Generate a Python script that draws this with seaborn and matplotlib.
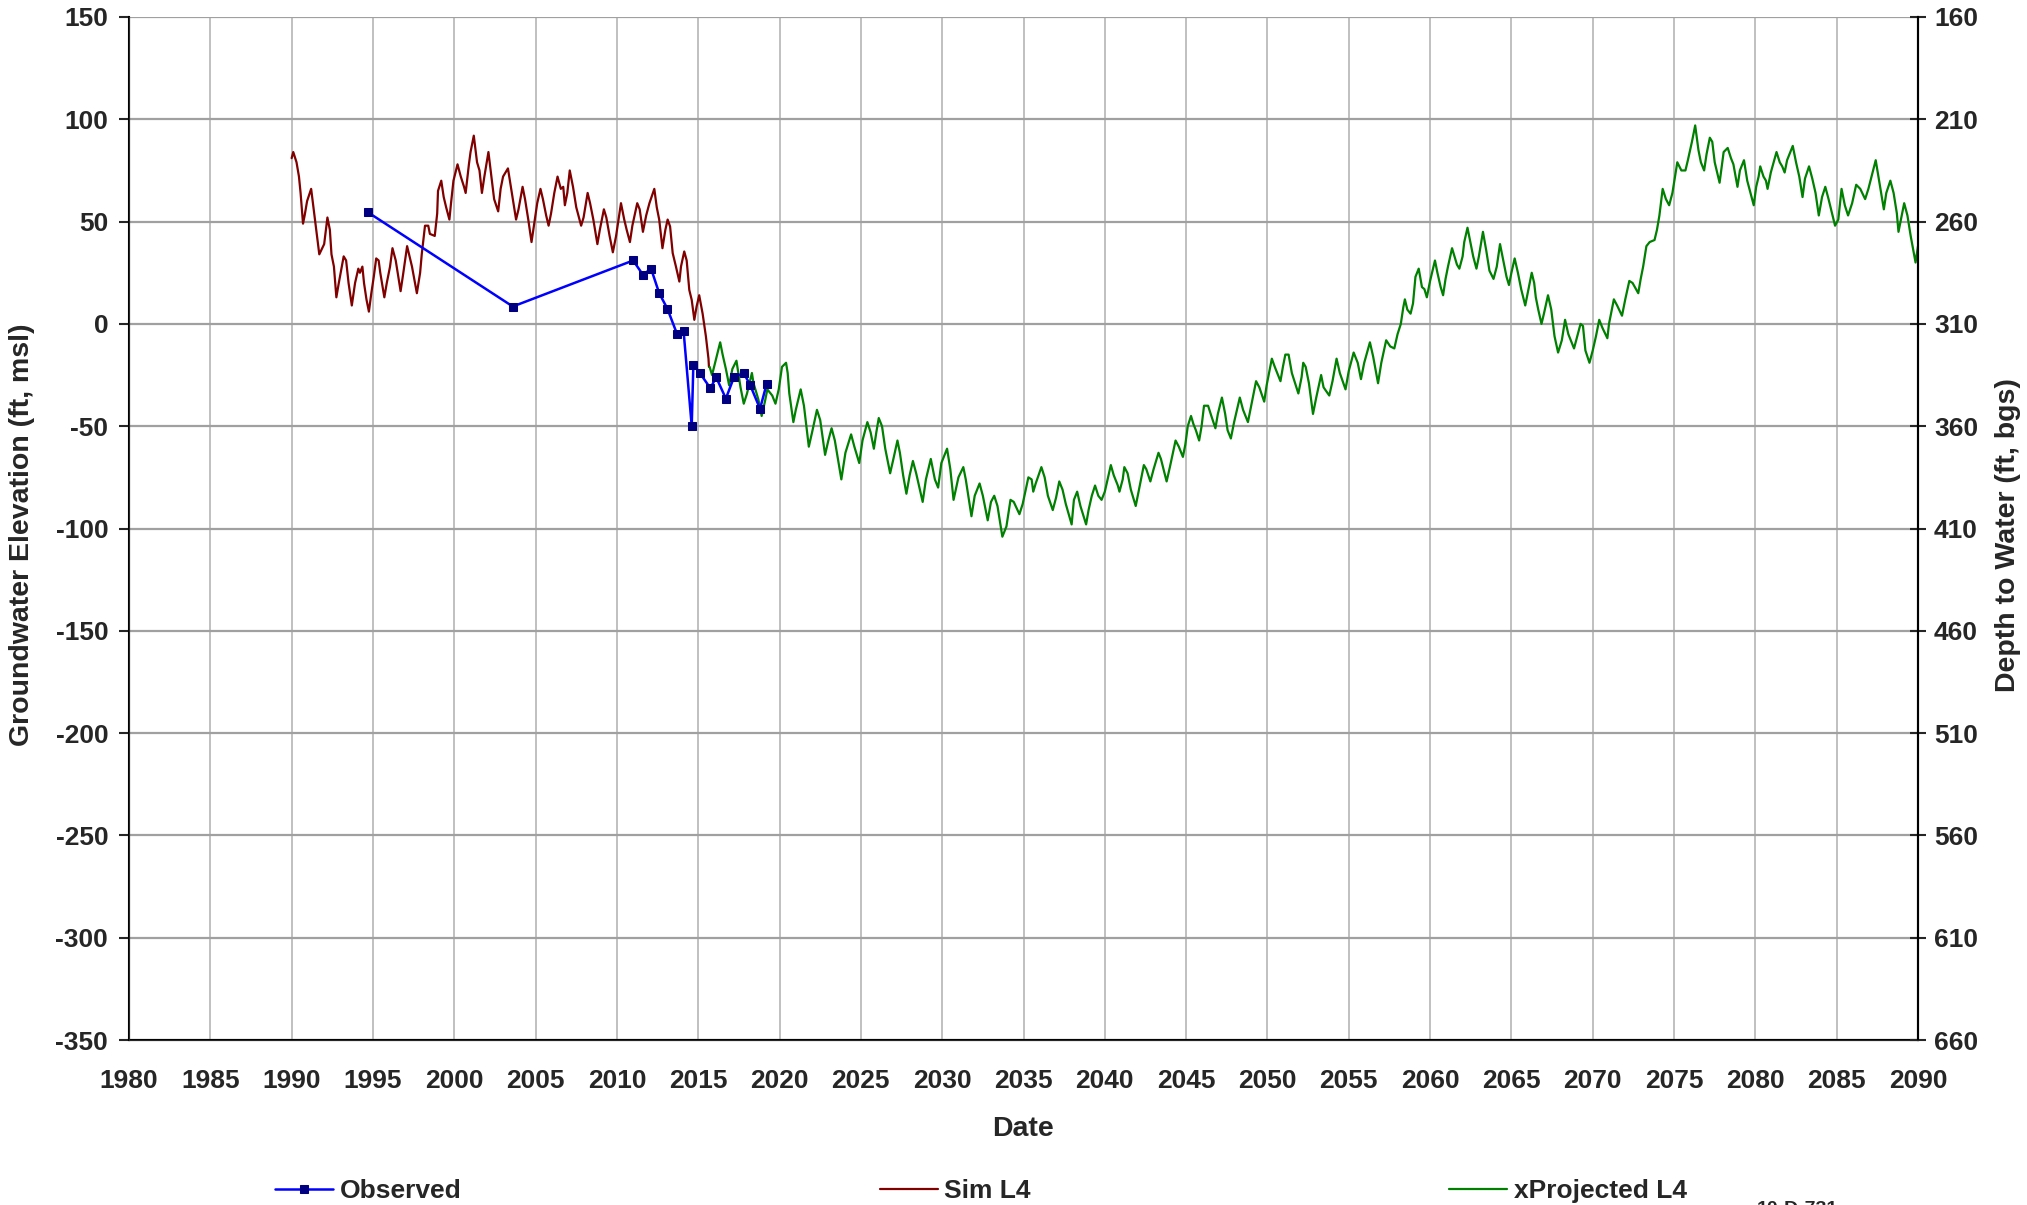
import matplotlib
matplotlib.use("Agg")
import matplotlib.pyplot as plt
import seaborn as sns
import pandas as pd

# observed water levels (decimal year, ft msl)
obs_years = [1994.7, 2003.6, 2011.0, 2011.6, 2012.1, 2012.6, 2013.1, 2013.7, 2014.1, 2014.6,
             2014.7, 2015.1, 2015.75, 2016.1, 2016.7, 2017.2, 2017.8, 2018.2, 2018.8, 2019.2]
obs_values = [54.5, 8.5, 31, 24, 27, 15, 7.5, -5, -3.5, -50,
              -20, -24, -31.5, -26, -36.5, -26, -24, -30, -41.5, -29.5]

# simulated L4 (year, ft msl)
sim_points = [
    (1990.0, 81), (1990.1, 84), (1990.3, 79), (1990.45, 72), (1990.55, 64), (1990.7, 49),
    (1990.8, 53), (1990.95, 60), (1991.2, 66), (1991.5, 47), (1991.7, 34), (1992.0, 39),
    (1992.2, 52), (1992.35, 46), (1992.45, 34), (1992.6, 28), (1992.75, 13), (1992.9, 20),
    (1993.2, 33), (1993.35, 31), (1993.5, 20), (1993.7, 9), (1993.9, 20), (1994.1, 27),
    (1994.2, 25), (1994.35, 28), (1994.45, 20), (1994.6, 12), (1994.75, 6), (1994.9, 15),
    (1995.05, 23), (1995.2, 32), (1995.35, 31), (1995.45, 25), (1995.7, 13), (1995.85, 20),
    (1996.05, 28), (1996.2, 37), (1996.4, 31), (1996.7, 16), (1996.85, 24), (1997.1, 38),
    (1997.4, 28), (1997.7, 15), (1997.9, 25), (1998.0, 34), (1998.2, 48), (1998.4, 48),
    (1998.5, 44), (1998.8, 43), (1998.95, 54), (1999.0, 65), (1999.2, 70), (1999.35, 62),
    (1999.5, 57), (1999.7, 51), (1999.8, 59), (1999.95, 70), (2000.2, 78), (2000.4, 72),
    (2000.6, 67), (2000.7, 64), (2000.8, 71), (2000.9, 78), (2001.0, 84), (2001.2, 92),
    (2001.4, 79), (2001.55, 75), (2001.7, 64), (2001.85, 72), (2002.1, 84), (2002.3, 71),
    (2002.45, 61), (2002.7, 55), (2002.85, 66), (2003.0, 72), (2003.3, 76), (2003.5, 66),
    (2003.8, 51), (2003.95, 56), (2004.2, 67), (2004.35, 61), (2004.55, 51), (2004.75, 40),
    (2004.9, 48), (2005.1, 59), (2005.3, 66), (2005.45, 61), (2005.65, 53), (2005.8, 48),
    (2005.95, 54), (2006.15, 64), (2006.35, 72), (2006.55, 66), (2006.7, 67), (2006.8, 58),
    (2006.95, 64), (2007.1, 75), (2007.3, 67), (2007.5, 57), (2007.8, 48), (2007.95, 52),
    (2008.2, 64), (2008.35, 59), (2008.55, 51), (2008.8, 39), (2008.95, 46), (2009.2, 56),
    (2009.35, 52), (2009.55, 43), (2009.75, 35), (2009.95, 43), (2010.1, 51), (2010.25, 59),
    (2010.45, 51), (2010.6, 46), (2010.8, 40), (2010.95, 48), (2011.25, 59), (2011.4, 56),
    (2011.6, 45), (2011.8, 53), (2012.0, 59), (2012.3, 66), (2012.45, 57), (2012.6, 51),
    (2012.8, 37), (2012.98, 46), (2013.12, 51), (2013.27, 47.6), (2013.43, 34.6), (2013.63, 28),
    (2013.84, 20.7), (2013.94, 28), (2014.14, 35.4), (2014.29, 31), (2014.45, 16.6), (2014.6, 11.7),
    (2014.76, 2), (2014.9, 8.5), (2015.06, 14), (2015.27, 5), (2015.47, -6), (2015.63, -17),
    (2015.66, -21),
]

# projected L4 (year, ft msl)
proj_points = [
    (2015.7, -21), (2015.85, -25), (2016.1, -17), (2016.35, -9), (2016.5, -15), (2016.7, -22),
    (2016.9, -30), (2017.1, -22), (2017.35, -18), (2017.5, -26), (2017.6, -31), (2017.8, -39),
    (2018.0, -34), (2018.3, -24), (2018.4, -29), (2018.7, -37), (2018.9, -45), (2019.1, -38),
    (2019.25, -32), (2019.55, -35), (2019.75, -39), (2019.95, -32), (2020.15, -21), (2020.4, -19),
    (2020.5, -24), (2020.6, -34), (2020.85, -48), (2021.0, -42), (2021.3, -32), (2021.5, -40),
    (2021.8, -60), (2022.0, -53), (2022.3, -42), (2022.5, -47), (2022.8, -64), (2023.0, -57),
    (2023.2, -51), (2023.4, -57), (2023.8, -76), (2024.05, -63), (2024.4, -54), (2024.6, -60),
    (2024.9, -68), (2025.1, -57), (2025.4, -48), (2025.6, -53), (2025.8, -61), (2025.95, -53),
    (2026.1, -46), (2026.3, -50), (2026.5, -61), (2026.8, -73), (2027.0, -66), (2027.25, -57),
    (2027.4, -63), (2027.6, -74), (2027.8, -83), (2028.0, -74), (2028.2, -67), (2028.4, -73),
    (2028.8, -87), (2029.0, -76), (2029.3, -66), (2029.55, -76), (2029.75, -80), (2029.95, -68),
    (2030.3, -61), (2030.5, -71), (2030.7, -86), (2031.0, -75), (2031.3, -70), (2031.45, -76),
    (2031.8, -94), (2032.0, -84), (2032.3, -78), (2032.5, -84), (2032.8, -96), (2033.0, -87),
    (2033.2, -84), (2033.4, -89), (2033.7, -104), (2033.95, -99), (2034.2, -86), (2034.4, -87),
    (2034.75, -93), (2034.95, -88), (2035.3, -75), (2035.5, -76), (2035.6, -82), (2035.75, -78),
    (2036.1, -70), (2036.3, -75), (2036.5, -84), (2036.8, -91), (2037.0, -85), (2037.2, -77),
    (2037.4, -81), (2037.6, -88), (2037.96, -98), (2038.1, -86), (2038.3, -82), (2038.5, -89),
    (2038.85, -98), (2039.0, -91), (2039.2, -84), (2039.4, -79), (2039.6, -84), (2039.8, -86),
    (2040.0, -82), (2040.2, -75), (2040.37, -69), (2040.55, -74), (2040.8, -79), (2040.9, -82),
    (2041.1, -76), (2041.2, -70), (2041.4, -73), (2041.6, -81), (2041.9, -89), (2042.1, -81),
    (2042.4, -69), (2042.55, -71), (2042.8, -77), (2043.0, -71), (2043.3, -63), (2043.45, -66),
    (2043.8, -77), (2044.0, -70), (2044.35, -57), (2044.55, -60), (2044.8, -65), (2044.95, -59),
    (2045.1, -50), (2045.3, -45), (2045.45, -49), (2045.6, -52), (2045.8, -57), (2045.95, -50),
    (2046.1, -40), (2046.35, -40), (2046.55, -45), (2046.8, -51), (2046.95, -44), (2047.2, -36),
    (2047.4, -44), (2047.55, -52), (2047.75, -56), (2047.95, -48), (2048.3, -36), (2048.5, -42),
    (2048.8, -48), (2048.95, -42), (2049.1, -36), (2049.3, -28), (2049.5, -31), (2049.8, -38),
    (2049.95, -30), (2050.27, -17), (2050.45, -21), (2050.8, -28), (2050.95, -21), (2051.1, -15),
    (2051.3, -15), (2051.5, -24), (2051.9, -34), (2052.1, -26), (2052.2, -19), (2052.35, -21),
    (2052.55, -29), (2052.8, -44), (2053.0, -36), (2053.3, -25), (2053.45, -31), (2053.8, -35),
    (2054.0, -28), (2054.25, -17), (2054.45, -24), (2054.8, -32), (2055.0, -23), (2055.3, -14),
    (2055.55, -19), (2055.75, -27), (2055.95, -19), (2056.3, -9), (2056.5, -16), (2056.8, -29),
    (2057.0, -19), (2057.3, -8), (2057.55, -11), (2057.8, -12), (2058.0, -5), (2058.2, 0),
    (2058.35, 8), (2058.45, 12), (2058.6, 7), (2058.8, 5), (2058.95, 10), (2059.1, 23),
    (2059.3, 27), (2059.5, 18), (2059.65, 17), (2059.8, 13), (2060.0, 21), (2060.3, 31),
    (2060.45, 25), (2060.65, 18), (2060.8, 14), (2060.95, 22), (2061.1, 28), (2061.35, 37),
    (2061.5, 33), (2061.65, 29), (2061.8, 27), (2062.0, 33), (2062.1, 40), (2062.3, 47),
    (2062.5, 39), (2062.65, 33), (2062.85, 27), (2063.0, 33), (2063.25, 45), (2063.45, 36),
    (2063.65, 26), (2063.9, 22), (2064.1, 28), (2064.3, 39), (2064.45, 33), (2064.7, 23),
    (2064.85, 19), (2065.0, 25), (2065.2, 32), (2065.4, 25), (2065.6, 17), (2065.85, 9),
    (2066.05, 17), (2066.25, 25), (2066.4, 20), (2066.5, 13), (2066.65, 7), (2066.85, 0),
    (2067.0, 5), (2067.25, 14), (2067.45, 7), (2067.65, -6), (2067.87, -14), (2068.1, -8),
    (2068.3, 2), (2068.5, -5), (2068.85, -12), (2069.05, -6), (2069.25, 0), (2069.4, -1),
    (2069.55, -13), (2069.8, -19), (2070.0, -13), (2070.2, -6), (2070.4, 2), (2070.6, -2),
    (2070.9, -7), (2071.0, 0), (2071.3, 12), (2071.5, 9), (2071.8, 4), (2072.0, 12),
    (2072.25, 21), (2072.45, 20), (2072.8, 15), (2072.95, 22), (2073.1, 28), (2073.3, 38),
    (2073.5, 40), (2073.8, 41), (2073.95, 46), (2074.1, 53), (2074.3, 66), (2074.5, 61),
    (2074.7, 58), (2074.9, 64), (2075.0, 69), (2075.2, 79), (2075.45, 75), (2075.7, 75),
    (2075.85, 80), (2076.1, 89), (2076.3, 97), (2076.5, 85), (2076.65, 79), (2076.85, 75),
    (2077.0, 83), (2077.2, 91), (2077.35, 89), (2077.5, 79), (2077.8, 69), (2078.05, 84),
    (2078.3, 86), (2078.5, 81), (2078.65, 78), (2078.9, 67), (2079.05, 75), (2079.3, 80),
    (2079.5, 70), (2079.9, 58), (2080.05, 67), (2080.2, 72), (2080.3, 77), (2080.5, 72),
    (2080.65, 70), (2080.75, 66), (2080.95, 74), (2081.3, 84), (2081.5, 79), (2081.65, 77),
    (2081.8, 74), (2081.95, 80), (2082.3, 87), (2082.5, 79), (2082.7, 72), (2082.9, 62),
    (2083.05, 71), (2083.3, 77), (2083.5, 71), (2083.7, 64), (2083.9, 53), (2084.1, 62),
    (2084.3, 67), (2084.5, 61), (2084.9, 48), (2085.1, 51), (2085.3, 66), (2085.5, 58),
    (2085.7, 53), (2085.95, 59), (2086.2, 68), (2086.45, 66), (2086.75, 61), (2086.95, 66),
    (2087.4, 80), (2087.65, 68), (2087.9, 56), (2088.05, 64), (2088.3, 70), (2088.5, 64),
    (2088.7, 54), (2088.8, 45), (2089.0, 53), (2089.15, 59), (2089.35, 53), (2089.55, 43),
    (2089.85, 30), (2090.0, 38),
]

x_ticks = list(range(1980, 2091, 5))
y_ticks = list(range(-350, 151, 50))
depth_ticks = list(range(160, 661, 50))
land_surface = 310  # depth = land_surface - elevation

sns.set_style("white")
plt.rcParams['font.family'] = ['Liberation Sans', 'DejaVu Sans']
plt.rcParams['font.weight'] = 'bold'
plt.rcParams['axes.labelweight'] = 'bold'
plt.rcParams['axes.unicode_minus'] = False

W, H = 2027, 1205
fig = plt.figure(figsize=(W / 100, H / 100), dpi=100)
ax = fig.add_axes([129 / W, 1 - 1040 / H, (1918 - 129) / W, (1040 - 17) / H])

sim_df = pd.DataFrame(sim_points, columns=["year", "value"])
proj_df = pd.DataFrame(proj_points, columns=["year", "value"])
obs_df = pd.DataFrame({"year": obs_years, "value": obs_values})

sns.lineplot(data=sim_df, x="year", y="value", ax=ax, color="#800000", lw=1.6,
             estimator=None, sort=False, label="Sim L4", legend=False)
sns.lineplot(data=proj_df, x="year", y="value", ax=ax, color="#008000", lw=1.6,
             estimator=None, sort=False, label="xProjected L4", legend=False)
sns.lineplot(data=obs_df, x="year", y="value", ax=ax, color="#0000FF", lw=1.8,
             marker="s", markersize=6, markerfacecolor="#000080", markeredgecolor="#000080",
             estimator=None, sort=False, label="Observed", legend=False)

ax.set_xlim(1980, 2090)
ax.set_ylim(-350, 150)
ax.set_xticks(x_ticks)
ax.set_yticks(y_ticks)
ax.xaxis.grid(True, color="#c0c0c0", lw=1.4)
ax.yaxis.grid(True, color="#a0a0a0", lw=1.6)
ax.set_axisbelow(True)
for s in ["left", "bottom", "right"]:
    ax.spines[s].set_color("black")
    ax.spines[s].set_linewidth(1.5)
ax.spines["top"].set_visible(False)
ax.tick_params(axis="both", direction="out", length=7, width=1.5, labelsize=19, pad=8)
ax.tick_params(axis="x", pad=14)
for lab in ax.get_xticklabels() + ax.get_yticklabels():
    lab.set_fontweight("bold")

ax.set_xlabel("Date", fontsize=20.5, fontweight="bold", va="center")
ax.xaxis.set_label_coords(0.5, (1040 - 1129) / 1023)
ax.set_ylabel("Groundwater Elevation (ft, msl)", fontsize=20.5, fontweight="bold", va="center")
ax.yaxis.set_label_coords((22 - 129) / 1789, 0.494)

ax2 = ax.twinx()
ax2.set_ylim(land_surface - (-350), land_surface - 150)
ax2.set_yticks(depth_ticks)
ax2.spines["top"].set_visible(False)
ax2.spines["right"].set_color("black")
ax2.spines["right"].set_linewidth(1.5)
ax2.tick_params(axis="y", direction="inout", length=11, width=1.5, labelsize=19, pad=6)
for lab in ax2.get_yticklabels():
    lab.set_fontweight("bold")
ax2.set_ylabel("Depth to Water (ft, bgs)", fontsize=20.5, fontweight="bold", va="center")
ax2.yaxis.set_label_coords((2008 - 129) / 1789, 0.494)

handles, labels = ax.get_legend_handles_labels()
order = [labels.index(n) for n in ["Observed", "Sim L4", "xProjected L4"]]
fig.legend([handles[i] for i in order], [labels[i] for i in order],
           loc="center left", bbox_to_anchor=(275 / W, 1 - 1191 / H), ncol=3,
           frameon=False, borderaxespad=0, borderpad=0, handlelength=2.2,
           handletextpad=0.25, columnspacing=15.85, prop={"size": 19, "weight": "bold"})

# drawing id, cut off by the bottom edge as in the source figure
fig.text(1757 / W, 1 - 1201.5 / H, "10-D-731", fontsize=14, fontweight="bold", va="top",
         ha="left")

fig.savefig("out.png", dpi=100)
